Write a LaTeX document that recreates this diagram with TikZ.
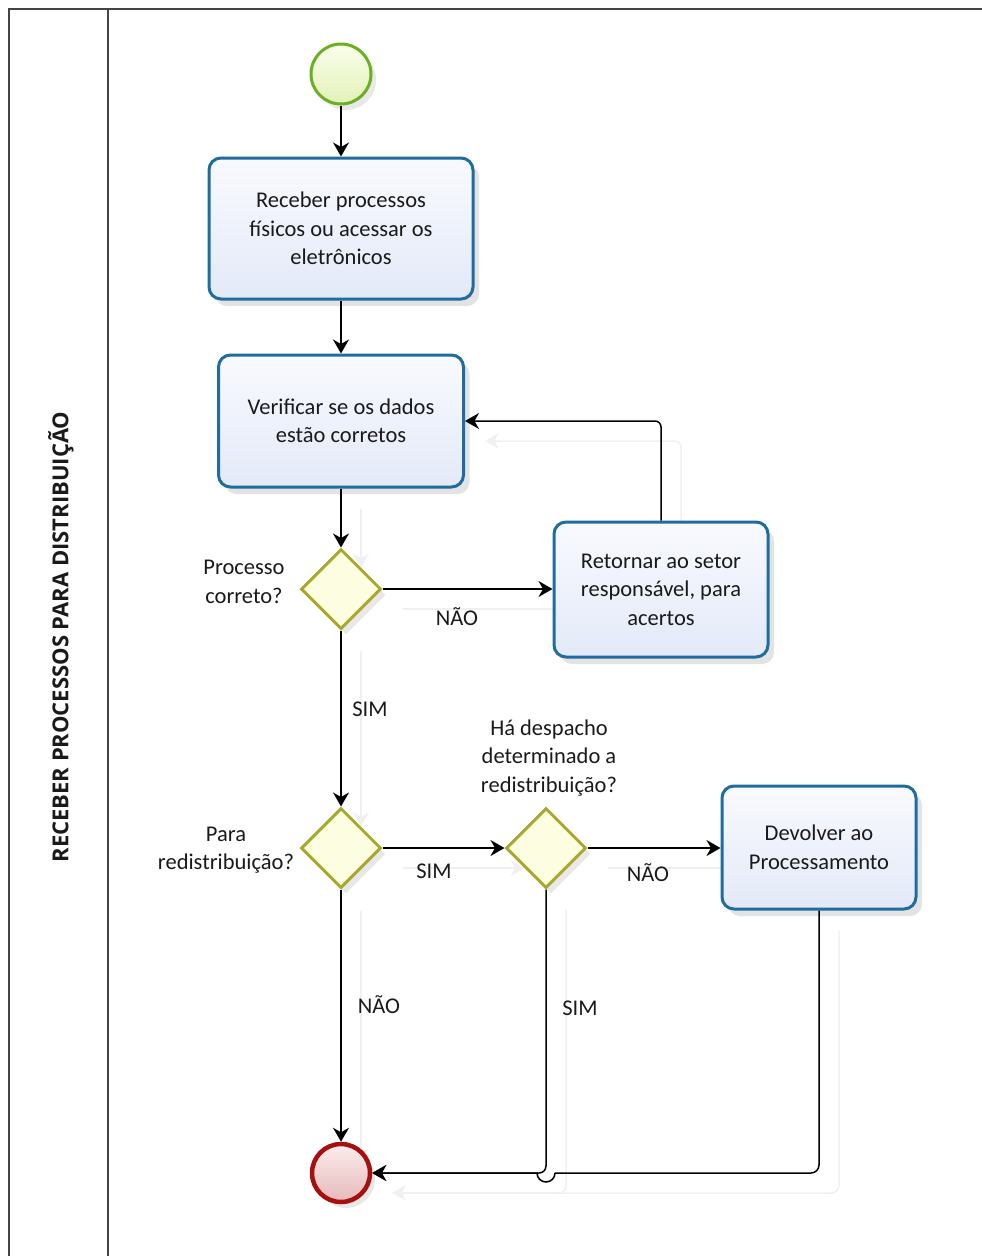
\documentclass[tikz,border=0pt]{standalone}
\usepackage{fontspec}
\setmainfont{Carlito}
\newfontfamily\titlefont{Open Sans}
\usetikzlibrary{shapes.geometric, arrows.meta, shadows}
\definecolor{taskborder}{HTML}{1F6C9E}
\definecolor{tasktop}{HTML}{F9FAFE}
\definecolor{taskbot}{HTML}{E3E9F8}
\definecolor{gateborder}{HTML}{A8A82C}
\definecolor{gatefill}{HTML}{FDFDE2}
\definecolor{startborder}{HTML}{6BAF22}
\definecolor{starttop}{HTML}{FBFEEC}
\definecolor{startbot}{HTML}{E2F2B8}
\definecolor{endborder}{HTML}{A50F0F}
\definecolor{endtop}{HTML}{FBEDED}
\definecolor{endbot}{HTML}{E7B9B9}
\definecolor{frame}{HTML}{444444}
\definecolor{txt}{HTML}{1A1A1A}
\pgfdeclarelayer{bg}
\pgfsetlayers{bg,main}
\tikzset{
  bodyfont/.style={font=\fontsize{22.5}{28.5}\selectfont},
  task/.style={rectangle, rounded corners=12pt, draw=taskborder, line width=3pt,
    top color=tasktop, bottom color=taskbot, align=center, inner sep=0pt, text=txt, bodyfont,
    drop shadow={shadow xshift=6pt, shadow yshift=-7pt, opacity=0.18, fill=black!60}},
  gate/.style={diamond, draw=gateborder, line width=3pt, fill=gatefill, minimum width=80pt,
    minimum height=80pt, inner sep=0pt,
    drop shadow={shadow xshift=5pt, shadow yshift=-6pt, opacity=0.15, fill=black!60}},
  startev/.style={circle, draw=startborder, line width=3pt, top color=starttop, bottom color=startbot,
    minimum size=60pt, inner sep=0pt,
    drop shadow={shadow xshift=5pt, shadow yshift=-6pt, opacity=0.15, fill=black!60}},
  endev/.style={circle, draw=endborder, line width=4.5pt, top color=endtop, bottom color=endbot,
    minimum size=58pt, inner sep=0pt,
    drop shadow={shadow xshift=5pt, shadow yshift=-6pt, opacity=0.15, fill=black!60}},
  lbl/.style={align=center, inner sep=0pt, text=txt, bodyfont},
  conn/.style={draw=black, line width=1.5pt, -{Stealth[length=14pt, width=16pt, inset=4.5pt]}},
  plain/.style={draw=black, line width=1.5pt},
  ghost/.style={draw=black!6, line width=1.5pt, -{Stealth[length=14pt, width=16pt, inset=4.5pt]}},
  ghostplain/.style={draw=black!6, line width=1.5pt},
  framel/.style={draw=frame, line width=2pt},
}
\begin{document}
\begin{tikzpicture}[x=1pt, y=-1pt]
\useasboundingbox (0,0) rectangle (982,1256);
% frame
\draw[framel] (9,1256) -- (9,9) -- (982,9);
\draw[framel] (108,9) -- (108,1256);
\node[rotate=90, font=\titlefont\bfseries\fontsize{22}{26}\selectfont, text=txt] (lane) at (61,637) {RECEBER PROCESSOS PARA DISTRIBUIÇÃO};

% nodes
\node[startev] (S) at (341,74) {};
\node[task, minimum width=264pt, minimum height=141pt] (T1) at (341,228.5) {Receber processos\\físicos ou acessar os\\eletrônicos};
\node[task, minimum width=245pt, minimum height=132pt] (T2) at (341,421) {Verificar se os dados\\estão corretos};
\node[gate] (D1) at (341,589) {};
\node[task, minimum width=214pt, minimum height=135pt] (T3) at (661,589.5) {Retornar ao setor\\responsável, para\\acertos};
\node[gate] (D2) at (341,848) {};
\node[gate] (D3) at (546,848) {};
\node[task, minimum width=194pt, minimum height=123pt] (T4) at (819,847.5) {Devolver ao\\Processamento};
\node[endev] (E) at (341,1173) {};

% labels
\node[lbl] (q1) at (244,582) {Processo\\correto?};
\node[lbl] (q2) at (226,850) {Para\\redistribuição?};
\node[lbl] (q3) at (549,758) {Há despacho\\determinado a\\redistribuição?};
\node[lbl] (n1) at (457,617) {NÃO};
\node[lbl] (s1) at (370,709) {SIM};
\node[lbl] (s2) at (434,871) {SIM};
\node[lbl] (n2) at (648,873) {NÃO};
\node[lbl] (n3) at (379,1005) {NÃO};
\node[lbl] (s3) at (580,1008) {SIM};

% helper coordinates
\coordinate (hopc) at (D3.south |- E.east);
\coordinate (hopR) at ([xshift=9pt]hopc);

% connectors
\draw[conn] (S) -- (T1);
\draw[conn] (T1) -- (T2);
\draw[conn] (T2) -- (D1);
\draw[conn] (D1.east) -- (D1.east -| T3.west);
\draw[conn, rounded corners=6pt] (T3.north) |- (T2.east);
\draw[conn] (D1) -- (D2);
\draw[conn] (D2) -- (D3);
\draw[conn] (D3.east) -- (D3.east -| T4.west);
\draw[conn] (D2) -- (E);
\draw[conn, rounded corners=7pt] (D3.south) |- (E.east);
\draw[plain, rounded corners=8pt] (T4.south) |- (hopR);
\draw[conn] (hopR) arc[start angle=0, end angle=-180, radius=9pt] -- (E.east);

% faint connector shadows
\begin{pgfonlayer}{bg}
\begin{scope}[transform canvas={shift={(20pt,-20pt)}}]
\draw[ghost] (T2) -- (D1);
\draw[ghost] (D1.east) -- (D1.east -| T3.west);
\draw[ghost, rounded corners=6pt] (T3.north) |- (T2.east);
\draw[ghost] (D1) -- (D2);
\draw[ghost] (D2) -- (D3);
\draw[ghost] (D3.east) -- (D3.east -| T4.west);
\draw[ghost] (D2) -- (E);
\draw[ghost, rounded corners=7pt] (D3.south) |- (E.east);
\draw[ghostplain, rounded corners=8pt] (T4.south) |- (E.east);
\end{scope}
\end{pgfonlayer}
\end{tikzpicture}
\end{document}
